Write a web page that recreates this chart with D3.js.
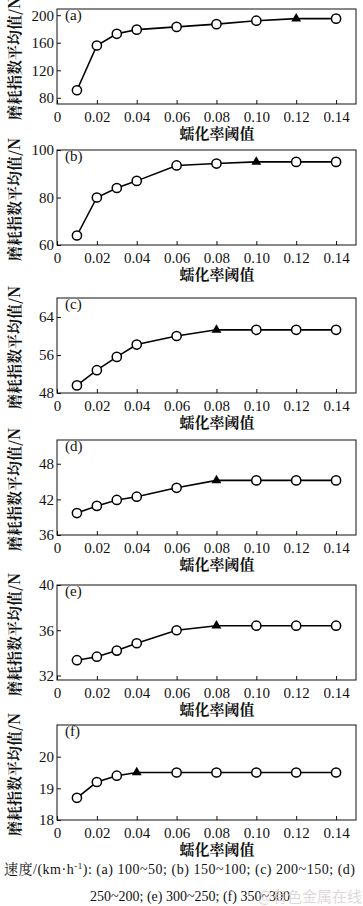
<!DOCTYPE html>
<html><head><meta charset="utf-8">
<script src="https://cdn.jsdelivr.net/npm/d3@7"></script>
<style>
html,body{margin:0;padding:0;background:#fff;}
svg{display:block;}
.tick text{font-family:"Liberation Serif","Times New Roman",serif;font-size:15px;fill:#111;}
</style></head>
<body>
<svg id="chart" width="363" height="906"></svg>
<script>
// ---- data ----
const thresholds = [0.01, 0.02, 0.03, 0.04, 0.06, 0.08, 0.10, 0.12, 0.14];
const seriesA = [91, 156, 173, 179, 183, 187, 192, 195, 195];
const seriesB = [64, 80, 84, 87, 93.5, 94.3, 95, 95, 95];
const seriesC = [49.6, 52.8, 55.6, 58.2, 60.0, 61.3, 61.3, 61.3, 61.3];
const seriesD = [39.7, 40.9, 41.9, 42.45, 43.95, 45.2, 45.2, 45.2, 45.2];
const seriesE = [33.35, 33.66, 34.2, 34.85, 36.0, 36.4, 36.4, 36.4, 36.4];
const seriesF = [18.7, 19.2, 19.4, 19.5, 19.5, 19.5, 19.5, 19.5, 19.5];
const optimalIndex = [7, 6, 5, 5, 5, 3]; // filled-triangle point per panel
const panelLabels = ["(a)", "(b)", "(c)", "(d)", "(e)", "(f)"];
const yTicksA = [80, 120, 160, 200];
const yTicksB = [60, 80, 100];
const yTicksC = [48, 56, 64];
const yTicksD = [36, 42, 48];
const yTicksE = [32, 36, 40];
const yTicksF = [18, 19, 20];
const xTicks = [0, 0.02, 0.04, 0.06, 0.08, 0.10, 0.12, 0.14];
const yTitle = "磨耗指数平均值/N";
const xTitle = "蠕化率阈值";
const caption1 = ["速度/(km·h", "-1", "): (a) 100~50; (b) 150~100; (c) 200~150; (d)"];
const caption2 = "250~200; (e) 300~250; (f) 350~300";

// ---- layout ----
const panels = [
  {vals: seriesA, ticks: yTicksA, dom: [71, 209], top: 9},
  {vals: seriesB, ticks: yTicksB, dom: [60, 100], top: 150},
  {vals: seriesC, ticks: yTicksC, dom: [48, 68], top: 298},
  {vals: seriesD, ticks: yTicksD, dom: [36, 52], top: 440},
  {vals: seriesE, ticks: yTicksE, dom: [31.6, 40], top: 585},
  {vals: seriesF, ticks: yTicksF, dom: [18, 21], top: 725}
];
const L = 57, R = 356, H = 95;
const svg = d3.select("#chart");
const x = d3.scaleLinear().domain([0, 0.15]).range([L, R]);
const cjk = '"Noto Serif CJK SC","Noto Sans CJK SC",serif';
const tri = d3.symbol().type(d3.symbolTriangle).size(42);

panels.forEach((p, i) => {
  const top = p.top, bot = top + H;
  const y = d3.scaleLinear().domain(p.dom).range([bot, top]);
  const g = svg.append("g");

  // x axis (ticks inward)
  const xa = g.append("g").attr("transform", `translate(0,${bot})`)
    .call(d3.axisBottom(x).tickValues(xTicks).tickSizeInner(-4).tickSizeOuter(0).tickPadding(7)
      .tickFormat(d => d === 0 ? "0" : d3.format(".2f")(d)));
  xa.select(".domain").remove();
  xa.selectAll("line").attr("stroke", "#111");

  // y axis
  const ya = g.append("g").attr("transform", `translate(${L},0)`)
    .call(d3.axisLeft(y).tickValues(p.ticks).tickSizeInner(-4).tickSizeOuter(0).tickPadding(3)
      .tickFormat(d => String(d)));
  ya.select(".domain").remove();
  ya.selectAll("line").attr("stroke", "#111");

  // frame
  g.append("rect").attr("x", L).attr("y", top).attr("width", R - L).attr("height", H)
    .attr("fill", "none").attr("stroke", "#111").attr("stroke-width", 1);

  // line
  g.append("path").datum(p.vals)
    .attr("fill", "none").attr("stroke", "#000").attr("stroke-width", 1.6)
    .attr("d", d3.line().x((d, j) => x(thresholds[j])).y(d => y(d)));

  // markers
  p.vals.forEach((v, j) => {
    if (j === optimalIndex[i]) {
      g.append("path").attr("d", tri)
        .attr("transform", `translate(${x(thresholds[j])},${y(v)})`)
        .attr("fill", "#000");
    } else {
      g.append("circle").attr("cx", x(thresholds[j])).attr("cy", y(v)).attr("r", 4.6)
        .attr("fill", "#fff").attr("stroke", "#000").attr("stroke-width", 1.5);
    }
  });

  // panel label
  g.append("text").attr("x", 65).attr("y", top + 11)
    .attr("font-family", "Liberation Serif, serif").attr("font-size", 15).attr("fill", "#111")
    .text(panelLabels[i]);

  // y title
  g.append("text")
    .attr("transform", `translate(20,${top + H / 2 + 2}) rotate(-90)`)
    .attr("text-anchor", "middle")
    .attr("font-family", cjk).attr("font-size", 15).attr("font-weight", 700).attr("fill", "#111")
    .text(yTitle);

  // x title
  g.append("text").attr("x", 217).attr("y", bot + 35)
    .attr("text-anchor", "middle")
    .attr("font-family", cjk).attr("font-size", 15).attr("font-weight", 700).attr("fill", "#111")
    .text(xTitle);
});

// caption
const c1 = svg.append("text").attr("x", 4).attr("y", 874)
  .attr("font-family", 'Liberation Serif,"Noto Serif CJK SC","Noto Sans CJK SC",serif')
  .attr("font-size", 14).attr("fill", "#111")
  .attr("textLength", 351).attr("lengthAdjust", "spacing");
c1.append("tspan").text(caption1[0]);
c1.append("tspan").attr("font-size", 9).attr("dy", -5).text(caption1[1]);
c1.append("tspan").attr("dy", 5).text(caption1[2]);

svg.append("text").attr("x", 290).attr("y", 901).attr("text-anchor", "end")
  .attr("font-family", 'Liberation Serif,serif').attr("font-size", 14).attr("fill", "#111")
  .text(caption2);

// watermark
svg.append("text").attr("x", 362).attr("y", 902).attr("text-anchor", "end")
  .attr("font-family", '"Noto Sans CJK SC",sans-serif').attr("font-size", 15)
  .attr("fill", "#d9cfcf").attr("opacity", 0.8)
  .text("@有色金属在线");
</script>
</body></html>
